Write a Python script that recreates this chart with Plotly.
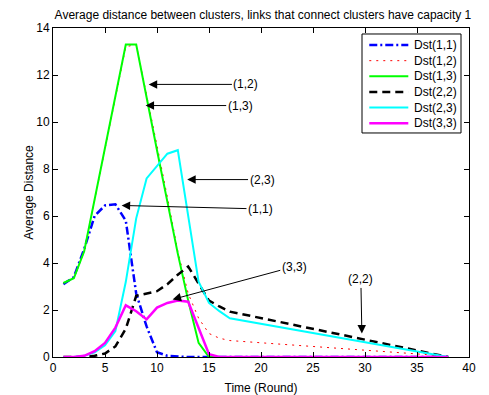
import plotly.graph_objects as go

rounds = list(range(1, 39))

dst11 = [3.1, 3.4, 4.6, 6.0, 6.45, 6.5, 5.8, 2.7, 1.3, 0.2,
         0.05, 0.02, 0, 0, 0, 0, 0, 0, 0, 0,
         0, 0, 0, 0, 0, 0, 0, 0, 0, 0,
         0, 0, 0, 0, 0, 0, 0, 0]
dst12 = [3.15, 3.35, 4.5, 6.7, 8.9, 11.1, 13.2, 13.3, 11.2, 9.0,
         6.8, 4.5, 2.7, 1.65, 1.0, 0.8, 0.7, 0.67, 0.63, 0.6,
         0.57, 0.54, 0.51, 0.48, 0.45, 0.42, 0.39, 0.36, 0.33, 0.3,
         0.27, 0.24, 0.21, 0.18, 0.15, 0.1, 0.05, 0.0]
dst13 = [3.15, 3.35, 4.5, 6.7, 8.9, 11.1, 13.3, 13.3, 11.0, 8.8,
         6.6, 4.4, 2.4, 0.6, 0, 0, 0, 0, 0, 0,
         0, 0, 0, 0, 0, 0, 0, 0, 0, 0,
         0, 0, 0, 0, 0, 0, 0, 0]
dst22 = [0, 0, 0, 0.05, 0.15, 0.45, 1.2, 2.6, 2.7, 2.8,
         3.1, 3.5, 3.85, 3.1, 2.4, 2.15, 1.93, 1.84, 1.75, 1.66,
         1.56, 1.47, 1.38, 1.29, 1.2, 1.1, 1.01, 0.92, 0.83, 0.74,
         0.64, 0.55, 0.46, 0.37, 0.28, 0.18, 0.09, 0.0]
dst23 = [0, 0, 0.05, 0.2, 0.5, 1.1, 3.2, 5.9, 7.6, 8.15,
         8.65, 8.8, 5.9, 3.2, 2.3, 1.95, 1.65, 1.57, 1.49, 1.41,
         1.33, 1.26, 1.18, 1.1, 1.02, 0.94, 0.86, 0.79, 0.71, 0.63,
         0.55, 0.47, 0.39, 0.31, 0.24, 0.16, 0.08, 0.0]
dst33 = [0, 0, 0.05, 0.25, 0.6, 1.25, 2.2, 1.95, 1.6, 2.1,
         2.3, 2.4, 2.35, 1.25, 0.12, 0, 0, 0, 0, 0,
         0, 0, 0, 0, 0, 0, 0, 0, 0, 0,
         0, 0, 0, 0, 0, 0, 0, 0]

series_names = ["Dst(1,1)", "Dst(1,2)", "Dst(1,3)", "Dst(2,2)", "Dst(2,3)", "Dst(3,3)"]
series_values = [dst11, dst12, dst13, dst22, dst23, dst33]

x_ticks = [0, 5, 10, 15, 20, 25, 30, 35, 40]
y_ticks = [0, 2, 4, 6, 8, 10, 12, 14]

# arrow annotations
ann_labels = ["(1,2)", "(1,3)", "(2,3)", "(1,1)", "(3,3)", "(2,2)"]
ann_tip_x = [9.2, 8.9, 12.9, 6.6, 11.5, 29.7]
ann_tip_y = [11.6, 10.7, 7.55, 6.45, 2.45, 1.0]
ann_txt_x = [18.55, 18.0, 20.1, 19.95, 23.2, 29.6]
ann_txt_y = [11.6, 10.7, 7.55, 6.3, 3.85, 3.3]

styles = [
    dict(color="#0000ff", width=2.5, dash="8px,3px,2px,3px"),
    dict(color="#ff0000", width=1, dash="2px,5px"),
    dict(color="#00ff00", width=2),
    dict(color="#000000", width=2.5, dash="8px,5px"),
    dict(color="#00ffff", width=2),
    dict(color="#ff00ff", width=2.5),
]

font_family = "Liberation Sans, Arial, sans-serif"

fig = go.Figure()
for name, vals, st in zip(series_names, series_values, styles):
    fig.add_trace(go.Scatter(x=rounds, y=vals, mode="lines", name=name, line=st))

for t, tx, ty, ax, ay in zip(ann_labels, ann_tip_x, ann_tip_y, ann_txt_x, ann_txt_y):
    fig.add_annotation(x=tx, y=ty, ax=ax, ay=ay, axref="x", ayref="y",
                       xref="x", yref="y", text=t, showarrow=True,
                       arrowhead=2, arrowsize=1.7, arrowwidth=1,
                       arrowcolor="black", standoff=0,
                       font=dict(size=12, color="black", family=font_family))

# legend box (MATLAB-style, compact rows)
leg_x0, leg_x1, leg_top, leg_bot = 0.7428, 0.9808, 0.9818, 0.6809
fig.add_shape(type="rect", xref="paper", yref="paper",
              x0=leg_x0, x1=leg_x1, y0=leg_bot, y1=leg_top,
              line=dict(color="black", width=1), fillcolor="white", layer="above")
row_y0, row_step = 0.9483, 0.04757
for i, (name, st) in enumerate(zip(series_names, styles)):
    yy = row_y0 - i * row_step
    fig.add_shape(type="line", xref="paper", yref="paper",
                  x0=0.7603, x1=0.8541, y0=yy, y1=yy,
                  line=st, layer="above")
    fig.add_annotation(x=0.8623, y=yy, xref="paper", yref="paper",
                       xanchor="left", yanchor="middle", text=name,
                       showarrow=False,
                       font=dict(size=12, color="black", family=font_family))

axis_common = dict(showline=True, linecolor="black", linewidth=1, mirror="ticks",
                   ticks="inside", ticklen=5, tickcolor="black", tickwidth=1,
                   showgrid=False, zeroline=False, automargin=False,
                   tickfont=dict(size=12, color="black", family=font_family))

fig.update_layout(
    width=481, height=387,
    margin=dict(l=45, r=20, t=20, b=38),
    paper_bgcolor="white", plot_bgcolor="white",
    font=dict(family=font_family, size=12, color="black"),
    title=dict(text="Average distance between clusters, links that connect clusters have capacity 1",
               x=0.530, xanchor="center", y=0.9835, yanchor="middle",
               font=dict(size=12, color="black", family=font_family)),
    xaxis=dict(range=[0, 40], tickvals=x_ticks,
               title=dict(text="Time (Round)", standoff=9,
                          font=dict(size=12, family=font_family)),
               **axis_common),
    yaxis=dict(range=[0, 14], tickvals=y_ticks,
               title=dict(text="Average Distance", standoff=0,
                          font=dict(size=12, family=font_family)),
               **axis_common),
    showlegend=False,
)

fig.write_html("out.html")
